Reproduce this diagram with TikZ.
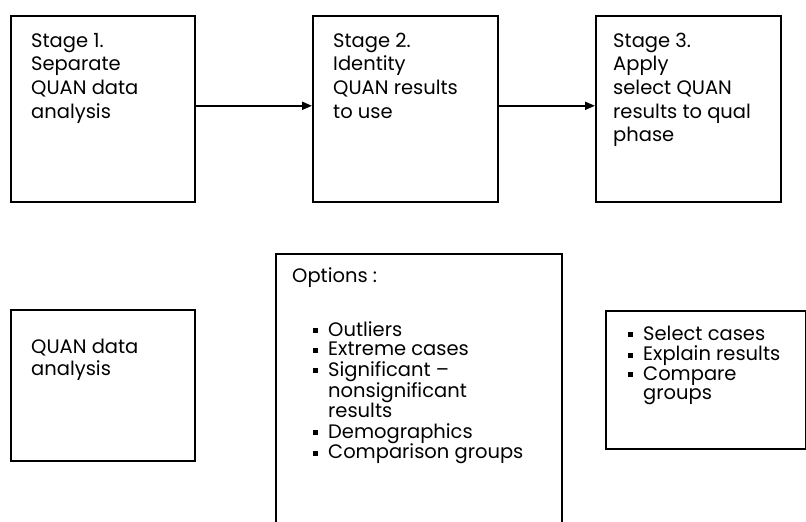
\documentclass[tikz,border=0pt]{standalone}
\usepackage{fontspec}
\setmainfont{Poppins}
\usetikzlibrary{arrows.meta}

% small filled square used as list marker
\newcommand\sqmark{\rule[3pt]{5pt}{5pt}}

\tikzset{
  frame/.style={draw=black, line width=1.6pt, inner sep=0pt, anchor=north west},
  txt/.style={inner sep=0pt, anchor=base west, font=\fontsize{19.5}{23.7}\selectfont},
  listtxt/.style={inner sep=0pt, anchor=base west, font=\fontsize{19.5}{19.6}\selectfont},
  flow/.style={line width=1.9pt, -{Triangle[length=10pt,width=8pt]}}
}

\begin{document}
\begin{tikzpicture}[x=1pt,y=1pt]
\useasboundingbox (0,0) rectangle (806,-522);

% stage boxes
\node[frame, minimum width=184, minimum height=186] (s1) at (10,-15) {};
\node[frame, minimum width=185, minimum height=186] (s2) at (312,-15) {};
\node[frame, minimum width=185, minimum height=186] (s3) at (595,-15) {};

\node[txt] (s1t) at (31,-47) {\begin{tabular}[t]{@{}l@{}}Stage 1.\\Separate\\QUAN data\\analysis\end{tabular}};
\node[txt] (s2t) at (333,-47) {\begin{tabular}[t]{@{}l@{}}Stage 2.\\Identity\\QUAN results\\to use\end{tabular}};
\node[txt] (s3t) at (613,-47) {\begin{tabular}[t]{@{}l@{}}Stage 3.\\Apply\\select QUAN\\results to qual\\phase\end{tabular}};

\draw[flow] ([yshift=3pt]s1.east) -- ([yshift=3pt]s2.west);
\draw[flow] ([yshift=3pt]s2.east) -- ([yshift=3pt]s3.west);

% lower row
\node[frame, minimum width=184, minimum height=151] (q) at (10,-309) {};
\node[listtxt, font=\fontsize{19.5}{22}\selectfont] (qt) at (31,-353) {\begin{tabular}[t]{@{}l@{}}QUAN data\\analysis\end{tabular}};

\node[frame, minimum width=286, minimum height=300] (opt) at (275,-253) {};
\node[txt] (optt) at (292,-282) {Options :};
\node[listtxt] (optl) at (313,-336) {\begin{tabular}[t]{@{}l@{\hspace{10pt}}l@{}}
\sqmark & Outliers\\
\sqmark & Extreme cases\\
\sqmark & Significant –\\
 & nonsignificant\\
 & results\\
\sqmark & Demographics\\
\sqmark & Comparison groups
\end{tabular}};

\node[frame, minimum width=200, minimum height=138] (use) at (605,-310) {};
\node[listtxt] (uset) at (628,-340) {\begin{tabular}[t]{@{}l@{\hspace{10pt}}l@{}}
\sqmark & Select cases\\
\sqmark & Explain results\\
\sqmark & Compare\\
 & groups
\end{tabular}};
\end{tikzpicture}
\end{document}
